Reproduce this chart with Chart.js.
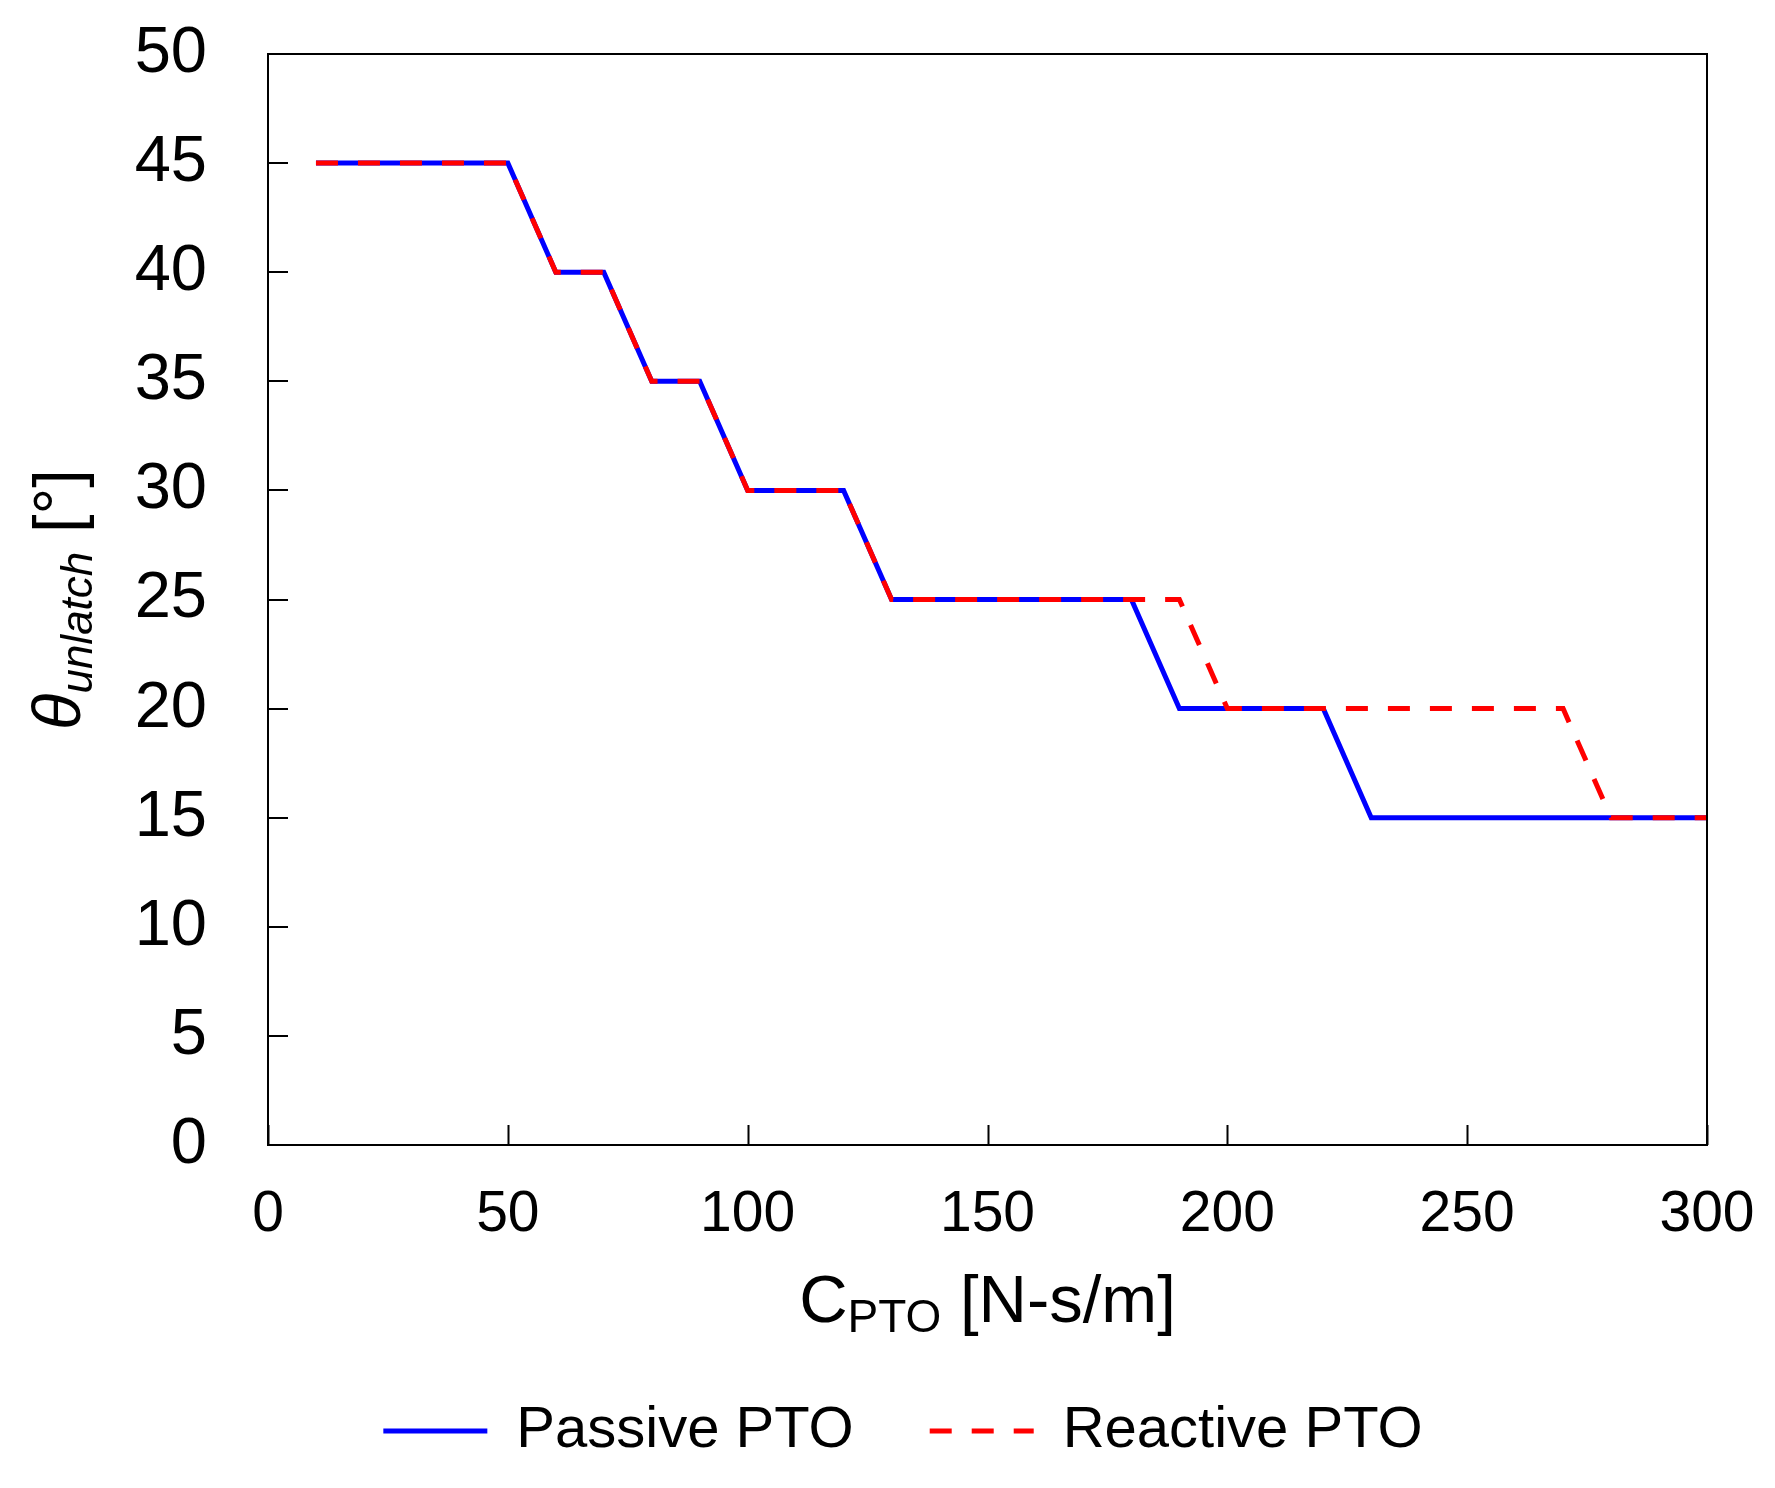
<!DOCTYPE html>
<html>
<head>
<meta charset="utf-8">
<script src="https://cdn.jsdelivr.net/npm/chart.js@4"></script>
<style>
  html, body { margin: 0; padding: 0; background: #ffffff; }
  #wrap { width: 1775px; height: 1488px; }
</style>
</head>
<body>
<div id="wrap"><canvas id="c" width="1775" height="1488"></canvas></div>
<script>
// ---- data ----
const cpto = [10, 20, 30, 40, 50, 60, 70, 80, 90, 100, 110, 120, 130, 140, 150,
              160, 170, 180, 190, 200, 210, 220, 230, 240, 250, 260, 270, 280, 290, 300];
const passivePTO = [45, 45, 45, 45, 45, 40, 40, 35, 35, 30, 30, 30, 25, 25, 25,
                    25, 25, 25, 20, 20, 20, 20, 15, 15, 15, 15, 15, 15, 15, 15];
const reactivePTO = [45, 45, 45, 45, 45, 40, 40, 35, 35, 30, 30, 30, 25, 25, 25,
                     25, 25, 25, 25, 20, 20, 20, 20, 20, 20, 20, 20, 15, 15, 15];
const xTickValues = [0, 50, 100, 150, 200, 250, 300];
const yTickValues = [0, 5, 10, 15, 20, 25, 30, 35, 40, 45, 50];
const seriesNames = ['Passive PTO', 'Reactive PTO'];

const FONT = '"Liberation Sans", Arial, sans-serif';

const toPoints = (xs, ys) => xs.map((x, i) => ({ x: x, y: ys[i] }));

const decor = {
  id: 'decor',
  afterDatasetsDraw(chart) {
    const { ctx, chartArea: a, scales } = chart;
    ctx.save();
    ctx.strokeStyle = '#000';
    ctx.lineWidth = 2;
    ctx.setLineDash([]);
    ctx.beginPath();
    xTickValues.forEach(v => {
      const px = Math.round(scales.x.getPixelForValue(v)) + 0.5;
      ctx.moveTo(px, a.bottom);
      ctx.lineTo(px, a.bottom - 20);
    });
    yTickValues.forEach(v => {
      const py = Math.round(scales.y.getPixelForValue(v));
      ctx.moveTo(a.left, py);
      ctx.lineTo(a.left + 20, py);
    });
    ctx.stroke();
    ctx.strokeRect(a.left, a.top, a.right - a.left, a.bottom - a.top);
    ctx.restore();
  },
  afterDraw(chart) {
    const { ctx, chartArea: a } = chart;
    ctx.save();
    ctx.fillStyle = '#000';
    ctx.textBaseline = 'alphabetic';
    ctx.textAlign = 'left';
    // x-axis title: C_PTO [N-s/m]
    const fMain = '67px ' + FONT;
    const fSub = '46px ' + FONT;
    ctx.font = fMain; const w1 = ctx.measureText('C').width;
    ctx.font = fSub; const w2 = ctx.measureText('PTO').width;
    ctx.font = fMain; const w3 = ctx.measureText(' [N-s/m]').width;
    const cx = (a.left + a.right) / 2;
    let x = cx - (w1 + w2 + w3) / 2;
    const by = 1322;
    ctx.font = fMain; ctx.fillText('C', x, by); x += w1;
    ctx.font = fSub; ctx.fillText('PTO', x, by + 10); x += w2;
    ctx.font = fMain; ctx.fillText(' [N-s/m]', x, by);

    // y-axis title: θ_unlatch [°]
    const fTh = 'italic 67px ' + FONT;
    const fSubI = 'italic 44px ' + FONT;
    ctx.font = fTh; const t1 = ctx.measureText('θ').width;
    ctx.font = fSubI; const t2 = ctx.measureText('unlatch').width;
    ctx.font = fMain; const t3 = ctx.measureText(' [°]').width;
    ctx.translate(80, (a.top + a.bottom) / 2);
    ctx.rotate(-Math.PI / 2);
    let tx = -(t1 + t2 + t3) / 2;
    ctx.font = fTh; ctx.fillText('θ', tx, 0); tx += t1;
    ctx.font = fSubI; ctx.fillText('unlatch', tx, 12); tx += t2;
    ctx.font = fMain; ctx.fillText(' [°]', tx, 0);
    ctx.restore();
  }
};

new Chart(document.getElementById('c'), {
  type: 'line',
  data: {
    datasets: [
      {
        label: seriesNames[0],
        data: toPoints(cpto, passivePTO),
        borderColor: '#0000ff',
        backgroundColor: '#0000ff',
        borderWidth: 5,
        pointRadius: 0,
        tension: 0,
        fill: false,
        order: 2
      },
      {
        label: seriesNames[1],
        data: toPoints(cpto, reactivePTO),
        borderColor: '#ff0000',
        backgroundColor: '#ff0000',
        borderWidth: 5,
        borderDash: [22, 20],
        pointRadius: 0,
        tension: 0,
        fill: false,
        order: 1
      }
    ]
  },
  options: {
    responsive: false,
    devicePixelRatio: 1,
    animation: false,
    layout: { padding: { top: 54, left: 31, right: 0, bottom: 18 } },
    plugins: {
      tooltip: { enabled: false },
      legend: {
        position: 'bottom',
        labels: {
          usePointStyle: true,
          pointStyle: 'line',
          pointStyleWidth: 104,
          padding: 76,
          color: '#000',
          font: { family: FONT, size: 58 },
          sort: (a, b) => a.datasetIndex - b.datasetIndex,
          generateLabels: (ch) => {
            const items = Chart.defaults.plugins.legend.labels.generateLabels(ch);
            items.forEach(it => {
              const ds = ch.data.datasets[it.datasetIndex];
              it.lineDash = ds.borderDash || [];
              it.lineWidth = ds.borderWidth;
              it.strokeStyle = ds.borderColor;
              it.lineCap = 'butt';
            });
            return items;
          }
        }
      }
    },
    scales: {
      x: {
        type: 'linear',
        min: 0,
        max: 300,
        afterBuildTicks: s => { s.ticks = xTickValues.map(v => ({ value: v })); },
        afterFit: s => { s.height = 181; s.paddingLeft = 0; s.paddingRight = 0; },
        grid: { display: false, drawTicks: false },
        border: { display: false },
        ticks: {
          padding: 36,
          color: '#000',
          maxRotation: 0,
          font: { family: FONT, size: 57 }
        }
      },
      y: {
        type: 'linear',
        position: 'left',
        min: 0,
        max: 50,
        afterBuildTicks: s => { s.ticks = yTickValues.map(v => ({ value: v })); },
        afterFit: s => { s.width = 237; s.paddingTop = 0; s.paddingBottom = 0; },
        grid: { display: false, drawTicks: false },
        border: { display: false },
        ticks: {
          padding: 61,
          color: '#000',
          font: { family: FONT, size: 65 }
        }
      },
      yRight: {
        type: 'linear',
        position: 'right',
        display: true,
        afterFit: s => { s.width = 68; s.paddingTop = 0; s.paddingBottom = 0; },
        grid: { display: false, drawTicks: false },
        border: { display: false },
        ticks: { display: false }
      }
    }
  },
  plugins: [decor]
});
</script>
</body>
</html>
